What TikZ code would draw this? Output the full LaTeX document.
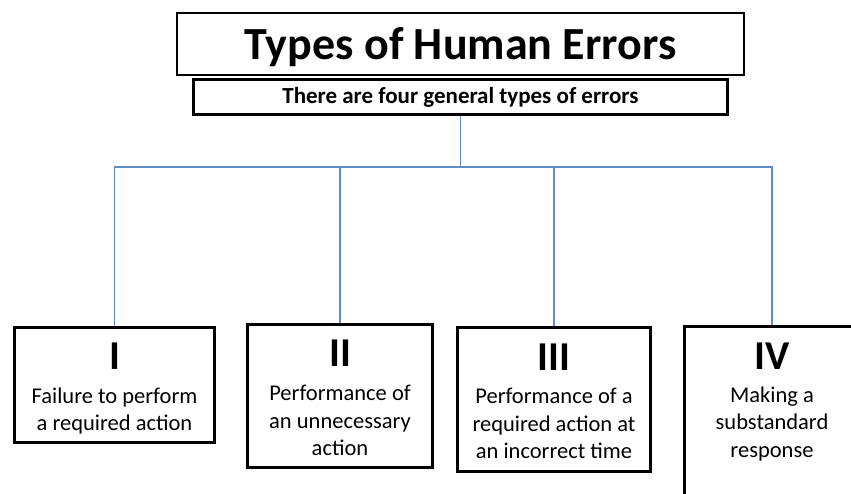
\documentclass[tikz,border=0pt]{standalone}
\usepackage{fontspec}
\setmainfont{Carlito}
\usepackage{tikz}
\usetikzlibrary{positioning,calc}
\definecolor{linkblue}{RGB}{95,140,198}
\newcommand{\numeral}[2]{\rule{0pt}{#1pt}{\fontsize{41}{41}\selectfont\bfseries #2}}

\begin{document}
\begin{tikzpicture}[x=1pt,y=-1pt,
  headbox/.style={draw=black,line width=2.6pt,inner sep=0pt,fill=white},
  errbox/.style={draw=black,line width=2.6pt,inner sep=0pt,align=center,fill=white,font=\fontsize{22.5}{27.5}\selectfont},
  link/.style={linkblue,line width=1.1pt}]
\useasboundingbox (0,0) rectangle (851,493);
\clip (0,0) rectangle (851,493);
\coordinate (hub) at (460.5,167);
\node[headbox,minimum width=567,minimum height=62,text depth=0pt,font=\fontsize{46}{50}\selectfont\bfseries] (title) at (460.5,44) {Types of Human Errors};
\node[headbox,minimum width=534,minimum height=35,font=\fontsize{23}{26}\selectfont\bfseries] (sub) at (460.5,97) {There are four general types of errors};
% the four types
\node[errbox,minimum width=200,minimum height=115] (tI) at (114.5,385) {\numeral{34}{I}\\[6pt] Failure to perform\\ a required action};
\node[errbox,minimum width=185,minimum height=143] (tII) at (340,396) {\numeral{30}{II}\\[7pt] Performance of\\ an unnecessary\\ action};
\node[errbox,minimum width=193,minimum height=144] (tIII) at (554,399.5) {\numeral{30}{III}\\[6pt] Performance of a\\ required action at\\ an incorrect time};
\node[errbox,minimum width=175,minimum height=184,anchor=north] (tIV) at (772,325.3) {\numeral{0}{IV}\\[5pt] Making a\\ substandard\\ response\\[9pt]};
% connectors
\draw[link] (sub) -- (hub);
\draw[link] (hub) -| (tI);
\draw[link] (hub) -| (tII);
\draw[link] (hub) -| (tIII);
\draw[link] (hub) -| (tIV);
\end{tikzpicture}
\end{document}
